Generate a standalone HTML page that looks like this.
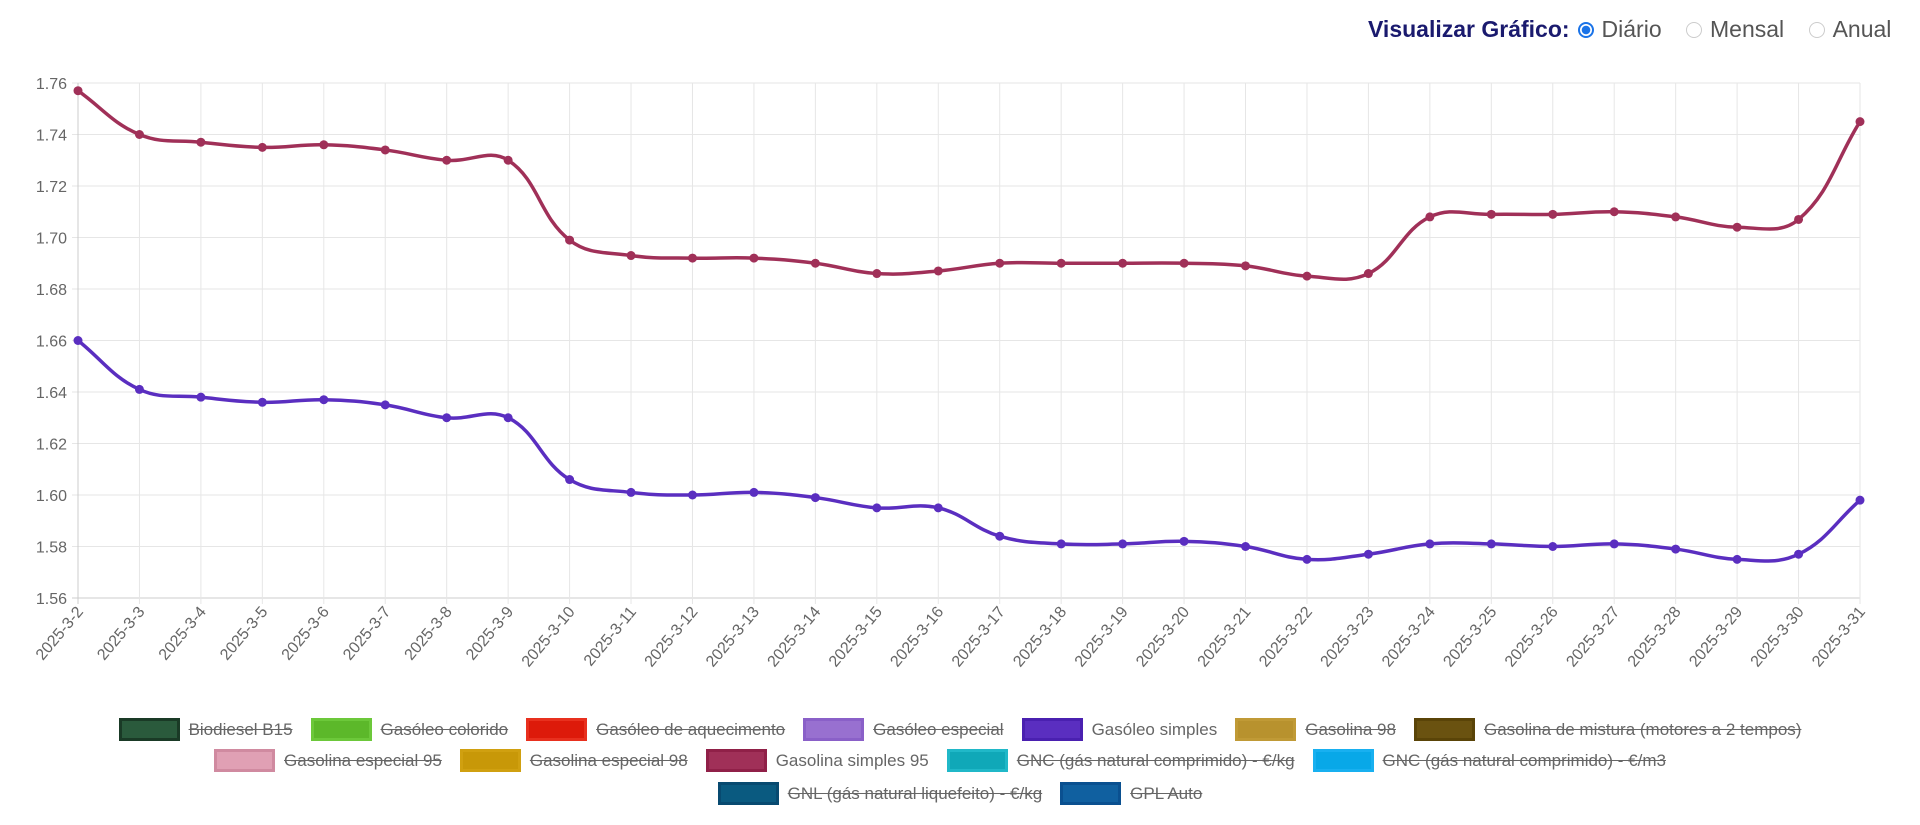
<!DOCTYPE html>
<html><head><meta charset="utf-8">
<style>
html,body{margin:0;padding:0;background:#fff;width:1920px;height:825px;overflow:hidden;font-family:"Liberation Sans",Arial,sans-serif;}
#hdr{position:absolute;left:1368px;top:16px;font-size:23px;color:#555;white-space:nowrap;}
#hdr b{color:#1a1a6e;}
.rad{display:inline-block;width:16px;height:16px;border-radius:50%;border:1px solid #ccc;vertical-align:-1px;margin:0 8px 0 8px;box-sizing:border-box;}
.rad.on{border:2px solid #1a73e8;background:radial-gradient(circle,#1a73e8 0 4px,#fff 4.5px);}
.row{position:absolute;left:0;width:1920px;display:flex;justify-content:center;font-size:17px;color:#666;}
.it{display:flex;align-items:center;margin:0 9px;white-space:nowrap;}
.bx{width:61px;height:23px;box-sizing:border-box;border:3px solid;margin-right:9px;}
.s{text-decoration:line-through;}
</style></head><body>
<div id="hdr"><b>Visualizar Gráfico:</b><span class="rad on"></span>Diário <span class="rad" style="margin-left:18px"></span>Mensal <span class="rad" style="margin-left:18px"></span>Anual</div>
<svg id="c" width="1920" height="700" style="position:absolute;left:0;top:0"></svg>
<div class="row" style="top:718px">
<div class="it"><div class="bx" style="background:#2a5a3c;border-color:#1a3a26"></div><span class="s">Biodiesel B15</span></div>
<div class="it"><div class="bx" style="background:#5cb82a;border-color:#6cc83a"></div><span class="s">Gasóleo colorido</span></div>
<div class="it"><div class="bx" style="background:#dd1a0a;border-color:#e8301e"></div><span class="s">Gasóleo de aquecimento</span></div>
<div class="it"><div class="bx" style="background:#9870d0;border-color:#8a60c8"></div><span class="s">Gasóleo especial</span></div>
<div class="it"><div class="bx" style="background:#5a2ec0;border-color:#4a20b0"></div><span>Gasóleo simples</span></div>
<div class="it"><div class="bx" style="background:#b8922e;border-color:#c09a36"></div><span class="s">Gasolina 98</span></div>
<div class="it"><div class="bx" style="background:#6a5210;border-color:#5a4408"></div><span class="s">Gasolina de mistura (motores a 2 tempos)</span></div>
</div>
<div class="row" style="top:749px;left:-20px">
<div class="it"><div class="bx" style="background:#e0a0b4;border-color:#d08aa0"></div><span class="s">Gasolina especial 95</span></div>
<div class="it"><div class="bx" style="background:#c89808;border-color:#d0a010"></div><span class="s">Gasolina especial 98</span></div>
<div class="it"><div class="bx" style="background:#a03058;border-color:#902048"></div><span>Gasolina simples 95</span></div>
<div class="it"><div class="bx" style="background:#10a8b8;border-color:#20b8c8"></div><span class="s">GNC (gás natural comprimido) - €/kg</span></div>
<div class="it"><div class="bx" style="background:#08a8e8;border-color:#18b0f0"></div><span class="s">GNC (gás natural comprimido) - €/m3</span></div>
</div>
<div class="row" style="top:782px">
<div class="it"><div class="bx" style="background:#0a5a80;border-color:#084a70"></div><span class="s">GNL (gás natural liquefeito) - €/kg</span></div>
<div class="it"><div class="bx" style="background:#1060a0;border-color:#0a5090"></div><span class="s">GPL Auto</span></div>
</div>
<script>
var svg=document.getElementById('c'),ns='http://www.w3.org/2000/svg';
function el(t,a,txt){var e=document.createElementNS(ns,t);for(var k in a)e.setAttribute(k,a[k]);if(txt!=null)e.textContent=txt;svg.appendChild(e);return e;}
var L=78,R=1860,T=83,B=598,n=30,dx=(R-L)/29;
function Y(v){return B-(v-1.56)/0.2*(B-T);}
for(var i=0;i<=10;i++){var y=T+i*(B-T)/10;el('line',{x1:L-6,x2:R,y1:y,y2:y,stroke:i==10?'#ccc':'#e6e6e6','stroke-width':1});
el('text',{x:L-11,y:y+6,'text-anchor':'end','font-size':16,fill:'#666','font-family':'Liberation Sans'},(1.76-i*0.02).toFixed(2));}
for(var i=0;i<n;i++){var x=L+i*dx;el('line',{x1:x,x2:x,y1:T,y2:B+6,stroke:i==0?'#ccc':'#e6e6e6','stroke-width':1});
el('text',{x:0,y:0,'text-anchor':'end','font-size':16,fill:'#666','font-family':'Liberation Sans',transform:'translate('+(x+6)+','+(B+14)+') rotate(-50)'},'2025-3-'+(i+2));}
var red=[1.757,1.740,1.737,1.735,1.736,1.734,1.730,1.730,1.699,1.693,1.692,1.692,1.690,1.686,1.687,1.690,1.690,1.690,1.690,1.689,1.685,1.686,1.708,1.709,1.709,1.710,1.708,1.704,1.707,1.745];
var pur=[1.660,1.641,1.638,1.636,1.637,1.635,1.630,1.630,1.606,1.601,1.600,1.601,1.599,1.595,1.595,1.584,1.581,1.581,1.582,1.580,1.575,1.577,1.581,1.581,1.580,1.581,1.579,1.575,1.577,1.598];
function path(d){var p=d.map(function(v,i){return[L+i*dx,Y(v)]});var t=0.4,s='M'+p[0][0]+','+p[0][1];
var cp=p.map(function(c,i){var a=p[Math.max(i-1,0)],b=p[Math.min(i+1,p.length-1)];
var d01=Math.hypot(c[0]-a[0],c[1]-a[1]),d12=Math.hypot(b[0]-c[0],b[1]-c[1]);var fa=d01/(d01+d12)||0,fb=d12/(d01+d12)||0;fa*=t;fb*=t;
return{p:[c[0]-fa*(b[0]-a[0]),c[1]-fa*(b[1]-a[1])],n:[c[0]+fb*(b[0]-a[0]),c[1]+fb*(b[1]-a[1])]};});
for(var i=1;i<p.length;i++)s+=' C'+cp[i-1].n[0]+','+cp[i-1].n[1]+' '+cp[i].p[0]+','+cp[i].p[1]+' '+p[i][0]+','+p[i][1];return{s:s,p:p};}
[[red,'#a03058'],[pur,'#5a2ec0']].forEach(function(o){var r=path(o[0]);el('path',{d:r.s,fill:'none',stroke:o[1],'stroke-width':3.5});
r.p.forEach(function(q){el('circle',{cx:q[0],cy:q[1],r:4.5,fill:o[1]});});});
</script>
</body></html>
